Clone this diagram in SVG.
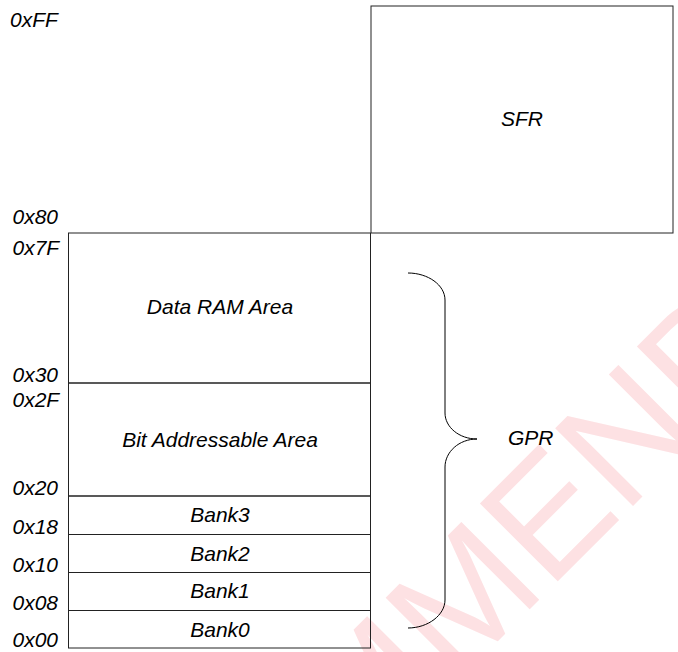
<svg xmlns="http://www.w3.org/2000/svg" width="678" height="652" viewBox="0 0 678 652">
<style>
.t{font-family:"Liberation Sans",Arial,sans-serif;font-style:italic;font-size:21px;fill:#000}
.c{text-anchor:middle}
.box{fill:none;stroke:#222;stroke-width:1}
.wm{font-family:"Liberation Sans",Arial,sans-serif;font-size:160px;fill:#fde1e3}
</style>
<rect width="678" height="652" fill="#fff"/>
<g id="watermark">
<text class="wm" transform="translate(557,582) rotate(-45)" x="-741" y="0">RECOMMENDED</text>
</g>
<g id="sfr">
<rect class="box" x="371" y="6" width="302" height="227" stroke="#000"/>
<text class="t c" x="522" y="126">SFR</text>
</g>
<g id="data-ram">
<rect class="box" x="68.5" y="233" width="302" height="150"/>
<text class="t c" x="220" y="314">Data RAM Area</text>
</g>
<g id="bit-addressable">
<rect class="box" x="68.5" y="383" width="302" height="113"/>
<text class="t c" x="220" y="446.5">Bit Addressable Area</text>
</g>
<g id="bank3">
<rect class="box" x="68.5" y="496" width="302" height="38.5"/>
<text class="t c" x="220" y="522">Bank3</text>
</g>
<g id="bank2">
<rect class="box" x="68.5" y="534.5" width="302" height="38"/>
<text class="t c" x="220" y="560.5">Bank2</text>
</g>
<g id="bank1">
<rect class="box" x="68.5" y="572.5" width="302" height="38"/>
<text class="t c" x="220" y="598">Bank1</text>
</g>
<g id="bank0">
<rect class="box" x="68.5" y="610.5" width="302" height="37.5"/>
<text class="t c" x="220" y="636.5">Bank0</text>
</g>
<g id="addresses">
<text class="t" x="10" y="27">0xFF</text>
<text class="t" x="12.5" y="223.5">0x80</text>
<text class="t" x="12.5" y="255">0x7F</text>
<text class="t" x="12.5" y="381.5">0x30</text>
<text class="t" x="12.5" y="406.5">0x2F</text>
<text class="t" x="12.5" y="495">0x20</text>
<text class="t" x="12.5" y="534">0x18</text>
<text class="t" x="12.5" y="571.5">0x10</text>
<text class="t" x="12.5" y="610">0x08</text>
<text class="t" x="12.5" y="647">0x00</text>
</g>
<g id="connectors">
<path d="M408,273 C428,273 445,285 445,300 L445,413 C445,427 459,439 477,439 C459,439 445,452 445,467 L445,600 C445,615 428,628 408,628" fill="none" stroke="#000" stroke-width="1"/>
</g>
<g id="gpr">
<text class="t" x="508" y="445">GPR</text>
</g>
</svg>
